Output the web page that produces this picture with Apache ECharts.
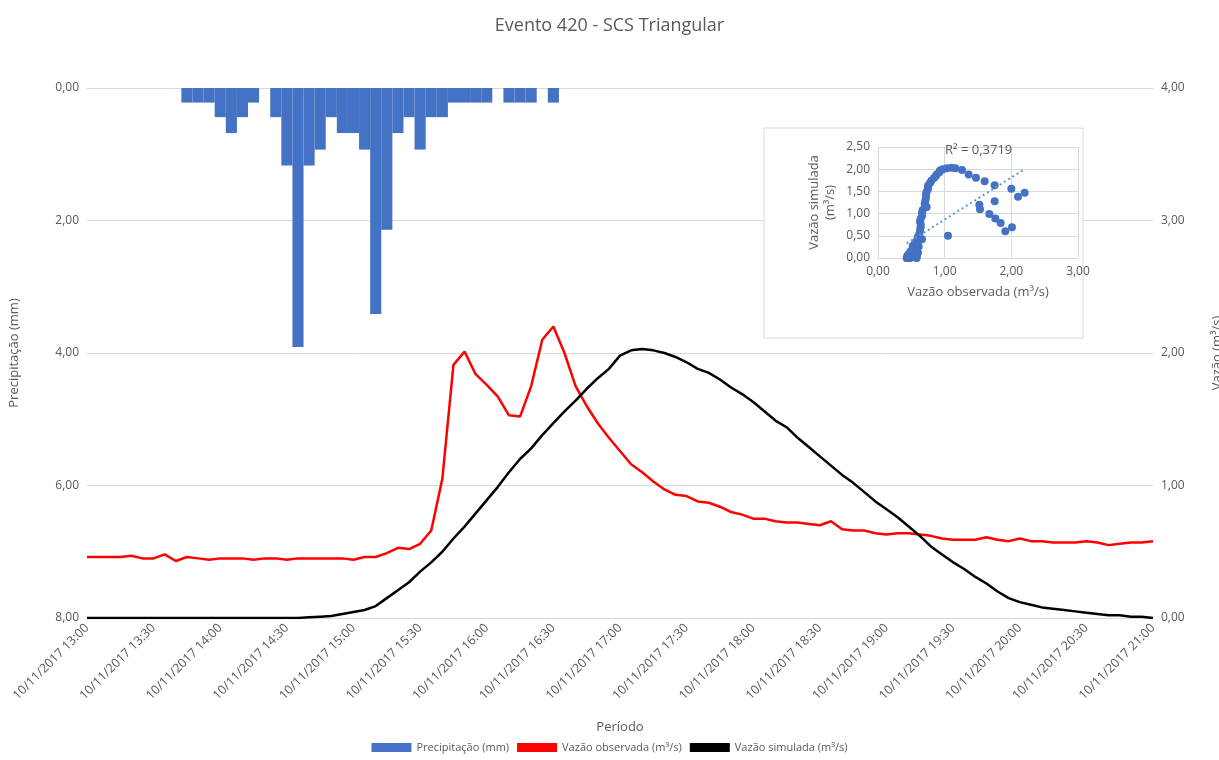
<!DOCTYPE html>
<html><head><meta charset="utf-8">
<script src="https://cdn.jsdelivr.net/npm/echarts@6/dist/echarts.min.js"></script>
<style>html,body{margin:0;padding:0;background:#fff}#c{width:1219px;height:760px}</style>
</head><body><div id="c"></div>
<script>
const times = [];
for (let m = 13*60; m <= 21*60; m += 5) {
  times.push(String(Math.floor(m/60)).padStart(2,'0') + ':' + String(m%60).padStart(2,'0'));
}
const precip = [0,0,0,0,0,0,0,0,0,0.22,0.22,0.22,0.44,0.68,0.44,0.22,0,0.44,1.17,3.91,1.17,0.93,0.44,0.68,0.68,0.93,3.41,2.14,0.68,0.44,0.93,0.44,0.44,0.22,0.22,0.22,0.22,0,0.22,0.22,0.22,0,0.22];
const observed = [0.46,0.46,0.46,0.46,0.47,0.45,0.45,0.48,0.43,0.46,0.45,0.44,0.45,0.45,0.45,0.44,0.45,0.45,0.44,0.45,0.45,0.45,
 0.45,0.45,0.44,0.46,0.46,0.49,0.53,0.52,0.56,
 0.66,1.05,1.91,2.01,1.84,1.76,1.67,1.53,1.52,1.75,2.10,2.20,2.00,1.75,1.60,1.47,1.36,1.26,1.16,1.10,1.03,0.97,0.93,0.92,
 0.88,0.87,0.84,0.80,0.78,0.75,0.75,0.73,0.72,0.72,0.71,0.70,0.73,0.67,0.66,0.66,0.64,0.63,0.64,0.64,
 0.63,0.62,0.60,0.59,0.59,0.59,0.61,0.59,0.58,0.60,0.58,0.58,0.57,0.57,0.57,0.58,0.57,0.55,0.56,0.57,0.57,0.58];
const simulated = [0,0,0,0,0,0,0,0,0,0,0,0,0,0,0,0,0,0,0,0,
 0.005,0.01,0.015,0.03,0.045,0.06,0.09,0.15,0.21,0.27,0.35,0.42,0.50,0.60,0.69,0.79,0.89,0.99,1.10,1.20,1.28,1.38,1.47,1.56,1.64,1.73,1.81,1.88,1.98,
 2.02,2.03,2.02,2.00,1.97,1.93,1.88,1.85,1.80,1.74,1.69,1.63,1.56,1.49,1.44,1.36,1.29,1.22,1.15,1.08,1.02,0.95,0.88,0.82,0.76,0.69,0.62,0.54,0.48,0.42,0.37,0.31,0.26,0.20,0.15,0.12,0.10,0.08,0.07,0.06,0.05,0.04,0.03,0.02,0.02,0.01,0.01,0];
const leftTicks = [0,2,4,6,8];
const rightTicks = [0,1,2,3,4];
const r2Label = 'R² = 0,3719';

const pairs = observed.map((o,i)=>[o, simulated[i]]);
const n = pairs.length;
let sx=0,sy=0,sxx=0,sxy=0;
pairs.forEach(([x,y])=>{sx+=x;sy+=y;sxx+=x*x;sxy+=x*y;});
const slope=(n*sxy-sx*sy)/(n*sxx-sx*sx), icpt=(sy-slope*sx)/n;
const xs = observed.slice().sort((a,b)=>a-b);
const trend=[[xs[0], icpt+slope*xs[0]],[xs[xs.length-1], icpt+slope*xs[xs.length-1]]];

const fmt = v => v.toFixed(2).replace('.',',');
const grey='#595959', gridc='#d9d9d9', ff='"Open Sans", "Noto Sans", sans-serif';
const chart = echarts.init(document.getElementById('c'));
chart.setOption({
  animation:false,
  textStyle:{fontFamily:ff},
  title:{text:'Evento 420 - SCS Triangular',left:'center',top:12,textStyle:{color:grey,fontSize:18,fontWeight:'normal',fontFamily:ff}},
  legend:{bottom:2,left:'center',itemWidth:40,itemHeight:9,itemGap:8,textStyle:{color:grey,fontSize:11},
    data:[{name:'Precipitação (mm)',icon:'rect'},{name:'Vazão observada (m³/s)',icon:'rect'},{name:'Vazão simulada (m³/s)',icon:'rect'}]},
  graphic:[
    {type:'rect',shape:{x:764,y:128,width:319,height:210},style:{fill:'#fff',stroke:gridc,lineWidth:1},z:5},
    {type:'text',left:945,top:144,style:{text:r2Label,fill:grey,font:'13px '+ff},z:100}
  ],
  grid:[
    {left:87,top:88,width:1066,height:530,outerBoundsMode:'none',containLabel:false},
    {left:878,top:147,width:200,height:111,z:10,outerBoundsMode:'none',containLabel:false}
  ],
  xAxis:[
    {type:'category',gridIndex:0,data:times,boundaryGap:false,
     name:'Período',nameLocation:'middle',nameGap:103,nameTextStyle:{color:grey,fontSize:13},
     axisLine:{lineStyle:{color:gridc}},axisTick:{show:false},
     axisLabel:{interval:5,rotate:45,color:grey,fontSize:12.5,formatter:v=>'10/11/2017 '+v}},
    {type:'value',gridIndex:1,min:0,max:3,interval:1,z:10,
     name:'Vazão observada (m³/s)',nameLocation:'middle',nameGap:28,nameTextStyle:{color:grey,fontSize:13},
     axisLine:{show:true,lineStyle:{color:gridc}},axisTick:{show:false},
     splitLine:{lineStyle:{color:gridc}},axisLabel:{color:grey,fontSize:12,formatter:fmt}}
  ],
  yAxis:[
    {type:'value',gridIndex:0,inverse:true,min:leftTicks[0],max:leftTicks[leftTicks.length-1],interval:2,
     name:'Precipitação (mm)',nameLocation:'middle',nameGap:66,nameTextStyle:{color:grey,fontSize:13},
     axisLine:{show:false},axisTick:{show:false},
     splitLine:{lineStyle:{color:gridc}},axisLabel:{color:grey,fontSize:12,formatter:fmt}},
    {type:'value',gridIndex:0,min:rightTicks[0],max:rightTicks[rightTicks.length-1],interval:1,position:'right',
     name:'Vazão (m³/s)',nameLocation:'middle',nameGap:58,nameTextStyle:{color:grey,fontSize:13},
     axisLine:{show:false},axisTick:{show:false},splitLine:{show:false},
     axisLabel:{color:grey,fontSize:12,formatter:fmt}},
    {type:'value',gridIndex:1,min:0,max:2.5,interval:0.5,z:10,
     name:'Vazão simulada\n(m³/s)',nameLocation:'middle',nameGap:40,nameTextStyle:{color:grey,fontSize:13,lineHeight:16},
     axisLine:{show:false},axisTick:{show:false},
     splitLine:{show:true,lineStyle:{color:gridc}},axisLabel:{color:grey,fontSize:12,formatter:fmt}}
  ],
  series:[
    {name:'Precipitação (mm)',type:'bar',xAxisIndex:0,yAxisIndex:0,data:precip,barCategoryGap:'0%',
     itemStyle:{color:'#4472c4',borderWidth:0}},
    {name:'Vazão observada (m³/s)',type:'line',xAxisIndex:0,yAxisIndex:1,data:observed,showSymbol:false,
     lineStyle:{color:'#ff0000',width:2.5},itemStyle:{color:'#ff0000'}},
    {name:'Vazão simulada (m³/s)',type:'line',xAxisIndex:0,yAxisIndex:1,data:simulated,showSymbol:false,
     lineStyle:{color:'#000',width:2.5},itemStyle:{color:'#000'}},
    {type:'scatter',xAxisIndex:1,yAxisIndex:2,data:pairs,symbolSize:8,itemStyle:{color:'#4472c4',opacity:1},z:10},
    {type:'line',xAxisIndex:1,yAxisIndex:2,data:trend,showSymbol:false,
     lineStyle:{color:'#5b9bd5',width:2,type:[2,3]},z:11}
  ]
});
</script></body></html>
